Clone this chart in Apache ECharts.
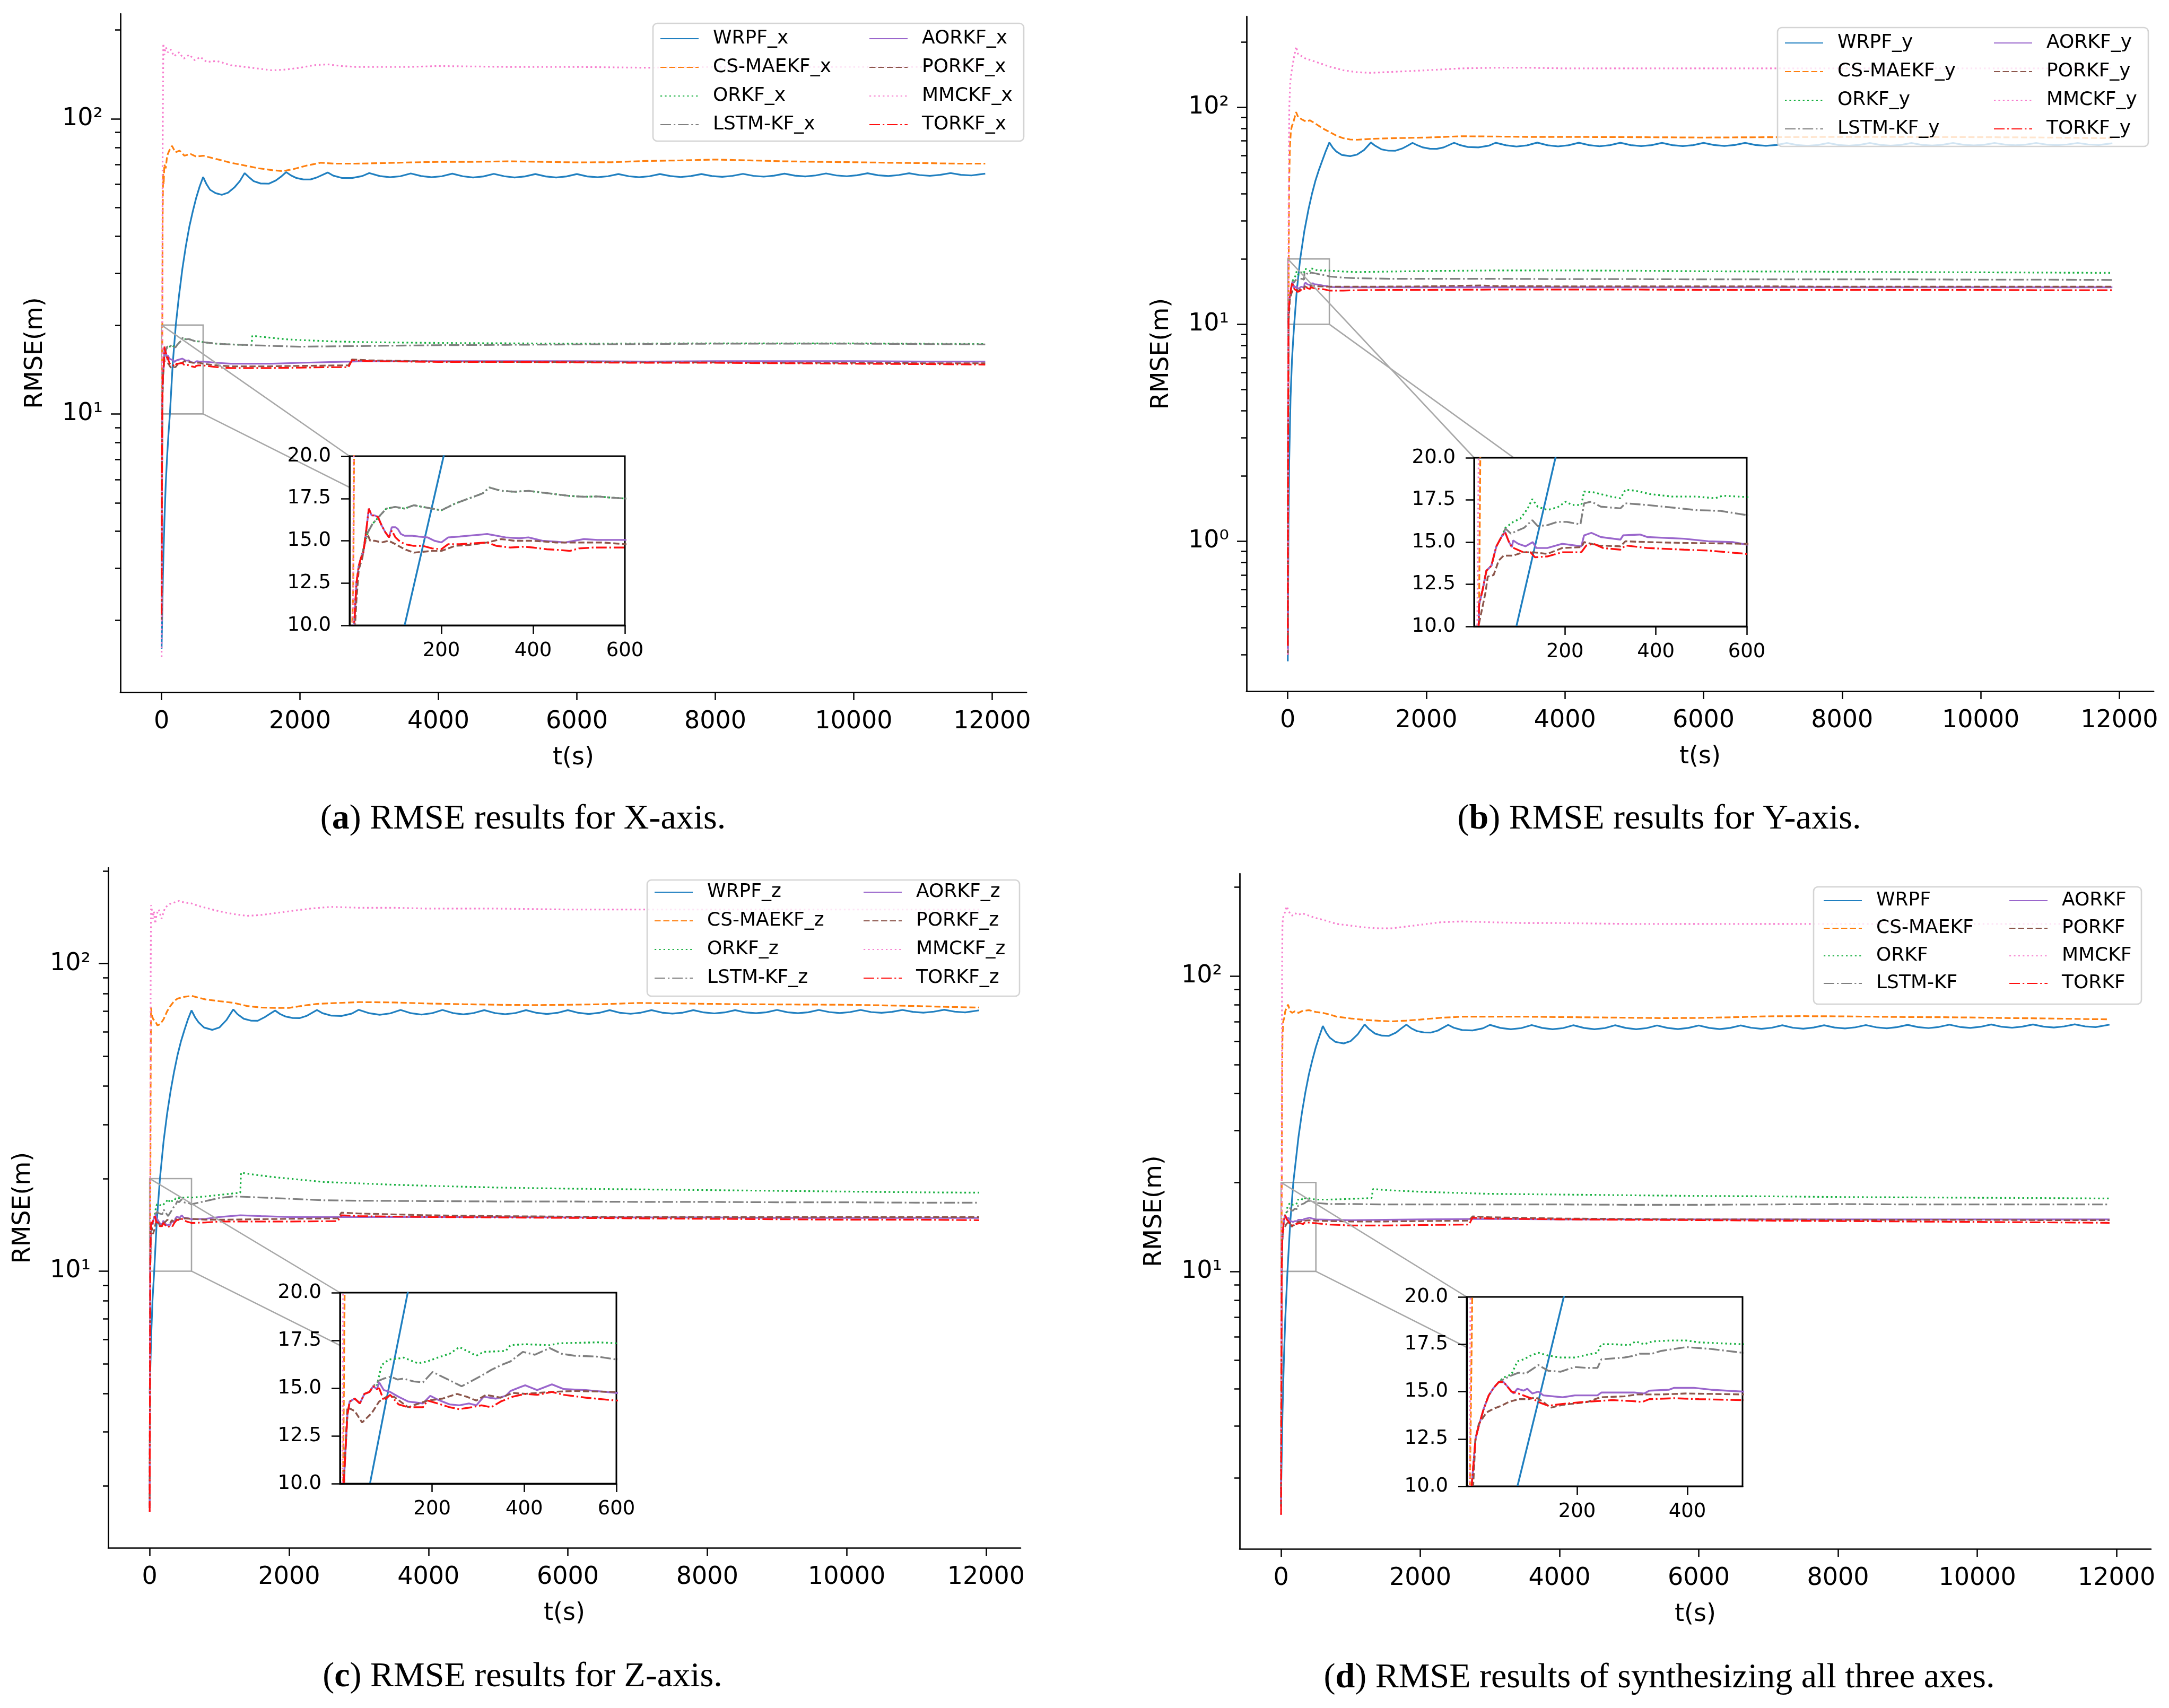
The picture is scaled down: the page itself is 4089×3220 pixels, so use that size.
<!DOCTYPE html>
<html><head><meta charset="utf-8">
<script src="https://cdn.jsdelivr.net/npm/echarts@6/dist/echarts.min.js"></script>
<style>html,body{margin:0;padding:0;background:#fff}#c{width:4089px;height:3220px}</style>
</head><body><div id="c"></div>
<script>
// ---------------- DATA ----------------
const METHODS = ['WRPF','CS-MAEKF','ORKF','LSTM-KF','AORKF','PORKF','MMCKF','TORKF'];
const SUFFIXES = ['_x','_y','_z',''];
const CAPTION_LETTERS = ['a','b','c','d'];
const CAPTION_TEXTS = [') RMSE results for X-axis.', ') RMSE results for Y-axis.', ') RMSE results for Z-axis.', ') RMSE results of synthesizing all three axes.'];
const X_TICKS = [0,2000,4000,6000,8000,10000,12000];
const INSET_X_TICKS_600 = [200,400,600];
const INSET_X_TICKS_500 = [200,400];
const LOG_MAJOR = [0.1,1,10,100,1000];
const LOG_MINOR = [0.2,0.3,0.4,0.5,0.6,0.7,0.8,0.9,2,3,4,5,6,7,8,9,20,30,40,50,60,70,80,90,200,300,400,500];

// Panel (a) X-axis
const A_WRPF = [[0,1.6],[20,2.9],[40,4.3],[60,5.8],[80,7.2],[100,8.6],[120,10.0],[160,14.7],[205,20.0],[250,25],[300,31],[350,37],[400,43],[450,48.5],[500,54],[550,59],[600,63.5],
[650,60],[700,57.5],[780,56],[870,55.3],[960,56.2],[1050,58.5],[1130,61.5],[1200,65.5],[1260,63.5],[1330,61.5],[1430,60.4],[1550,60.3],[1650,61.8],[1730,63.8],[1800,66],
[1870,64.3],[1950,63],[2050,62.3],[2150,62.3],[2250,63.4],[2400,65.8],[2480,64.2],[2600,63.1],[2750,63],[2900,64],[3000,65.5],
[3150,64.0],[3300,63.4],[3450,63.9],[3600,65.3],[3750,64.0],[3900,63.4],[4050,63.9],[4200,65.2],[4350,63.9],[4500,63.3],[4650,63.8],[4800,65.1],[4950,63.9],[5100,63.3],[5250,63.8],[5400,65.0],[5550,63.8],[5700,63.3],[5850,63.8],[6000,65.0],[6150,63.8],[6300,63.4],[6450,63.9],[6600,65.0],[6750,63.9],[6900,63.4],[7050,63.9],[7200,65.0],[7350,64.0],[7500,63.5],[7650,64.0],[7800,65.0],[7950,64.0],[8100,63.6],[8250,64.1],[8400,65.1],[8550,64.1],[8700,63.7],[8850,64.2],[9000,65.2],[9150,64.2],[9300,63.8],[9450,64.3],[9600,65.3],[9750,64.3],[9900,63.9],[10050,64.4],[10200,65.4],[10350,64.4],[10500,64.0],[10650,64.5],[10800,65.4],[10950,64.5],[11100,64.1],[11250,64.6],[11400,65.5],[11550,64.6],[11700,64.3],[11900,65.2]];
const A_CSMAEKF = [[0,5],[8,12],[15,45],[22,65],[30,60],[40,70],[60,68],[80,75],[110,78],[150,81],[200,77],[260,78],[330,75],[420,76],[500,74.5],[600,75],[800,73],[1000,71],[1200,69.5],[1400,68],[1600,67],[1750,66.5],[1900,67.5],[2100,69.5],[2300,71],[2500,70.5],[2800,70.5],[3200,70.8],[3600,71.2],[4000,71.5],[4500,71.5],[5000,71.8],[5500,71.5],[6000,71.2],[6500,71.3],[7000,72],[7500,72.3],[8000,72.8],[8500,72.3],[9000,71.8],[9500,71.5],[10000,71.3],[10500,71],[11000,70.8],[11500,70.5],[11900,70.5]];
const A_ORKF = [[0,2.0],[5,6],[10,10],[15,12.5],[20,13.5],[30,14.5],[40,15.5],[50,16.0],[60,16.3],[70,16.6],[80,16.9],[100,17.0],[120,16.9],[140,17.1],[160,17.0],[180,16.9],[200,16.8],[215,17.0],[230,17.2],[250,17.4],[270,17.6],[290,17.8],[305,18.15],[330,17.95],[360,17.9],[390,17.95],[420,17.85],[450,17.75],[480,17.65],[510,17.6],[540,17.62],[570,17.55],[600,17.5],[800,17.3],[1000,17.2],[1300,17.1],[1310,18.4],[1500,18.2],[1800,17.9],[2000,17.8],[2500,17.6],[3000,17.5],[4000,17.4],[5000,17.35],[6000,17.3],[8000,17.35],[10000,17.35],[11900,17.25]];
const A_LSTM = [[0,2.0],[5,6],[10,10],[15,12.5],[20,13.5],[30,14.5],[40,15.5],[50,16.0],[60,16.3],[70,16.6],[80,16.9],[100,17.0],[120,16.9],[140,17.1],[160,17.0],[180,16.9],[200,16.8],[215,17.0],[230,17.2],[250,17.4],[270,17.6],[290,17.8],[305,18.15],[330,17.95],[360,17.9],[390,17.95],[420,17.85],[450,17.75],[480,17.65],[510,17.6],[540,17.62],[570,17.55],[600,17.5],[800,17.3],[1000,17.2],[1300,17.1],[1600,17.0],[2000,16.9],[2500,16.95],[3000,17.0],[4000,17.1],[5000,17.15],[6000,17.2],[7000,17.25],[8000,17.3],[9000,17.3],[10000,17.3],[11000,17.25],[11900,17.2]];
const A_AORKF = [[0,2.0],[5,6],[10,10],[15,12.5],[20,13.5],[25,14.0],[30,14.3],[35,15.3],[42,16.9],[48,16.5],[55,16.5],[62,16.4],[70,15.9],[78,15.5],[86,15.2],[92,15.8],[100,15.8],[105,15.7],[112,15.4],[120,15.3],[135,15.3],[150,15.25],[170,15.2],[185,15.0],[200,14.9],[215,15.2],[240,15.25],[260,15.3],[280,15.35],[300,15.4],[320,15.3],[340,15.2],[370,15.15],[390,15.2],[420,15.0],[450,14.95],[470,14.9],[490,15.0],[510,15.1],[540,15.05],[570,15.05],[600,15.05],[800,14.9],[1000,14.8],[1300,14.8],[1600,14.8],[2000,14.9],[2500,15.0],[3000,15.1],[4000,15.1],[5000,15.1],[6000,15.1],[7000,15.05],[8000,15.1],[9000,15.1],[10000,15.1],[11000,15.05],[11900,15.05]];
const A_PORKF = [[0,2.0],[5,5],[10,9],[15,11.5],[20,13.3],[28,14.0],[36,15.6],[45,15.0],[55,15.0],[70,14.9],[85,15.0],[100,14.8],[120,14.5],[140,14.3],[160,14.35],[180,14.4],[200,14.4],[230,14.7],[260,14.75],[300,14.9],[330,15.1],[360,15.0],[400,15.0],[450,14.9],[500,14.9],[550,14.9],[600,14.8],[800,14.6],[1000,14.5],[1500,14.5],[2000,14.55],[2500,14.6],[2700,14.6],[2750,15.3],[3000,15.2],[4000,15.05],[5000,15.0],[6000,15.0],[7000,14.95],[8000,14.95],[9000,14.9],[10000,14.9],[11000,14.85],[11900,14.85]];
const A_MMCKF = [[0,1.5],[8,10],[15,80],[25,180],[40,165],[60,175],[90,168],[130,172],[180,163],[250,168],[320,160],[400,165],[480,158],[560,162],[650,156],[800,157],[1000,152],[1200,150],[1400,148],[1600,146],[1800,147],[2000,149],[2200,152],[2400,153],[2600,151],[2800,150],[3200,150],[3600,150],[4000,151],[5000,150],[6000,150],[7000,149],[8000,150],[9000,150],[10000,150],[11000,150],[11900,150]];
const A_TORKF = [[0,2.1],[5,6],[10,10],[15,12.5],[20,13.5],[25,14.0],[30,14.3],[35,15.3],[42,16.9],[48,16.5],[55,16.5],[62,16.4],[70,15.9],[78,15.5],[86,15.2],[92,15.6],[100,15.2],[108,15.0],[120,14.8],[140,14.7],[160,14.7],[180,14.55],[200,14.5],[215,14.8],[240,14.8],[270,14.85],[300,14.9],[320,14.7],[350,14.6],[380,14.65],[400,14.6],[430,14.5],[460,14.45],[480,14.4],[500,14.55],[530,14.6],[560,14.6],[600,14.6],[800,14.4],[1000,14.3],[1500,14.3],[2000,14.35],[2500,14.4],[2700,14.4],[2750,15.2],[3000,15.1],[4000,15.0],[5000,15.0],[6000,14.95],[7000,14.9],[8000,14.9],[9000,14.85],[10000,14.8],[11000,14.75],[11900,14.7]];

// Panel (b) Y-axis
const B_WRPF = [[0,0.28],[10,1.2],[20,2.3],[40,4.6],[60,6.8],[80,8.7],[93,10],[130,14.3],[179,20],[240,27],[300,34],[350,40],[400,46],[450,51.5],[500,57],[550,63],[600,68.8],
[650,65],[700,62.5],[780,60.3],[900,59.5],[1000,60.5],[1100,63.5],[1200,68.8],[1260,66.5],[1350,64],[1450,63.1],[1550,63],[1650,64.5],[1730,66.5],[1800,68.5],[1870,66.8],[1950,65.3],[2050,64.4],[2150,64.3],[2250,65.3],[2400,68.6],[2480,67],[2600,65.6],[2750,65.3],[2900,66.5],[3000,68.6],
[3150,66.8],[3300,65.9],[3450,66.7],[3600,68.7],[3750,66.8],[3900,66.0],[4050,66.8],[4200,68.6],[4350,66.9],[4500,66.1],[4650,66.9],[4800,68.6],[4950,66.9],[5100,66.2],[5250,66.9],[5400,68.5],[5550,66.9],[5700,66.2],[5850,66.9],[6000,68.5],[6150,67.0],[6300,66.3],[6450,67.0],[6600,68.5],[6750,67.0],[6900,66.4],[7050,67.0],[7200,68.4],[7350,67.0],[7500,66.4],[7650,67.0],[7800,68.4],[7950,67.0],[8100,66.5],[8250,67.1],[8400,68.4],[8550,67.1],[8700,66.5],[8850,67.1],[9000,68.4],[9150,67.1],[9300,66.6],[9450,67.2],[9600,68.4],[9750,67.2],[9900,66.7],[10050,67.2],[10200,68.4],[10350,67.3],[10500,66.8],[10650,67.3],[10800,68.4],[10950,67.3],[11100,66.9],[11250,67.4],[11400,68.4],[11550,67.4],[11700,67.0],[11900,68.2]];
const B_CSMAEKF = [[0,0.3],[5,2],[10,8],[15,25],[20,45],[30,65],[45,78],[60,82],[80,85],[100,90],[120,95],[150,90],[200,88],[260,86],[320,87],[400,84],[500,80],[600,77],[700,74],[800,72],[900,71],[1000,70.8],[1200,71.5],[1500,72],[2000,72.5],[2500,73.5],[3000,73.3],[3500,73],[4000,73],[5000,72.8],[6000,72.5],[7000,72.8],[8000,73],[9000,73],[10000,72.8],[11000,72.5],[11900,72]];
const B_ORKF = [[0,0.3],[5,4],[11,11.3],[19,12.2],[27,13.3],[38,13.6],[49,14.75],[60,15.3],[69,15.85],[86,16.2],[102,16.4],[118,17.0],[128,17.55],[140,17.1],[161,16.9],[183,17.05],[202,17.4],[215,17.2],[236,17.2],[242,18.0],[263,17.95],[301,17.7],[322,17.6],[333,18.1],[354,18.05],[387,17.85],[435,17.7],[488,17.7],[531,17.6],[547,17.75],[600,17.67],[800,17.5],[1000,17.4],[1500,17.5],[2000,17.6],[3000,17.7],[4000,17.7],[5000,17.65],[6000,17.55],[7000,17.5],[8000,17.45],[9000,17.4],[10000,17.35],[11000,17.3],[11900,17.25]];
const B_LSTM = [[0,0.3],[5,4],[11,11.3],[19,12.2],[27,13.3],[38,13.6],[49,14.75],[60,15.3],[69,15.8],[81,15.5],[97,15.7],[110,15.85],[128,16.3],[140,15.95],[161,16.0],[183,16.2],[204,16.2],[234,16.05],[242,17.3],[258,17.4],[279,17.1],[322,17.0],[333,17.3],[381,17.2],[435,17.05],[488,16.9],[542,16.85],[600,16.6],[800,16.4],[1000,16.3],[1500,16.2],[2000,16.2],[3000,16.2],[4000,16.15],[5000,16.15],[6000,16.1],[7000,16.1],[8000,16.1],[9000,16.1],[10000,16.05],[11000,16.05],[11900,16.0]];
const B_AORKF = [[0,0.3],[5,4],[11,11.3],[19,12.2],[27,13.3],[38,13.6],[49,14.75],[60,15.3],[68,15.6],[76,15.05],[83,14.7],[86,15.1],[97,14.9],[113,14.75],[129,15.0],[137,14.65],[161,14.65],[194,14.9],[236,14.75],[242,15.4],[258,15.55],[279,15.3],[322,15.15],[328,15.4],[365,15.45],[381,15.3],[462,15.2],[515,15.05],[569,15.0],[600,14.85],[800,14.8],[1000,14.8],[1500,14.8],[2000,14.8],[3000,14.8],[4000,14.8],[5000,14.8],[6000,14.8],[7000,14.8],[8000,14.8],[9000,14.8],[10000,14.8],[11000,14.8],[11900,14.8]];
const B_PORKF = [[0,0.3],[5,3],[11,10.2],[25,12.0],[30,12.95],[43,13.05],[54,13.9],[65,14.2],[86,14.2],[108,14.4],[129,14.4],[161,14.3],[194,14.65],[236,14.7],[242,15.0],[274,14.8],[322,14.75],[333,15.05],[381,15.0],[462,14.95],[600,14.9],[800,14.9],[1000,14.9],[2000,14.95],[2800,15.1],[3000,15.0],[4000,14.95],[5000,14.95],[6000,14.95],[7000,14.95],[8000,14.9],[9000,14.9],[10000,14.9],[11000,14.9],[11900,14.9]];
const B_MMCKF = [[0,0.3],[5,3],[10,20],[15,60],[22,100],[35,130],[60,150],[90,170],[120,190],[150,175],[200,172],[250,168],[300,166],[400,162],[500,158],[600,154],[800,148],[1000,145],[1200,144],[1400,145],[1600,146],[2000,148],[2500,151],[3000,152],[3500,152],[4000,151],[5000,151],[6000,151],[7000,151],[8000,151],[9000,151],[10000,151],[11000,151],[11900,151]];
const B_TORKF = [[0,0.33],[5,4],[11,11.3],[19,12.2],[27,13.3],[38,13.6],[49,14.75],[60,15.3],[68,15.6],[76,15.05],[83,14.7],[108,14.4],[124,14.4],[134,14.1],[161,14.15],[194,14.4],[236,14.4],[247,14.8],[263,14.9],[284,14.65],[322,14.55],[333,14.8],[381,14.65],[462,14.55],[515,14.5],[600,14.3],[800,14.3],[1000,14.35],[1500,14.4],[2000,14.4],[3000,14.45],[4000,14.45],[5000,14.45],[6000,14.4],[7000,14.4],[8000,14.4],[9000,14.4],[10000,14.4],[11000,14.35],[11900,14.35]];

// Panel (c) Z-axis
const C_WRPF = [[0,4],[20,6],[40,8],[65,10],[100,14.3],[147,20],[200,26.5],[250,32.5],[300,38.5],[350,44.5],[400,50.5],[450,56],[500,61],[550,66],[600,70.5],
[650,67],[700,64.5],[780,62],[900,60.9],[1000,62],[1100,65.5],[1200,71],[1260,68.5],[1350,66.2],[1450,65.3],[1550,65.2],[1650,67],[1730,68.8],[1800,70.4],[1870,68.6],[1950,67.3],[2050,66.6],[2150,66.5],[2250,67.6],[2400,70.7],[2480,69],[2600,67.8],[2750,67.6],[2900,68.8],[3000,70.8],
[3150,69.0],[3300,68.2],[3450,68.9],[3600,70.7],[3750,69.0],[3900,68.3],[4050,69.0],[4200,70.7],[4350,69.1],[4500,68.4],[4650,69.1],[4800,70.6],[4950,69.1],[5100,68.5],[5250,69.1],[5400,70.6],[5550,69.2],[5700,68.6],[5850,69.2],[6000,70.6],[6150,69.2],[6300,68.6],[6450,69.2],[6600,70.6],[6750,69.2],[6900,68.7],[7050,69.3],[7200,70.6],[7350,69.3],[7500,68.8],[7650,69.3],[7800,70.6],[7950,69.4],[8100,68.9],[8250,69.4],[8400,70.6],[8550,69.4],[8700,69.0],[8850,69.5],[9000,70.7],[9150,69.5],[9300,69.0],[9450,69.5],[9600,70.7],[9750,69.6],[9900,69.1],[10050,69.6],[10200,70.7],[10350,69.6],[10500,69.2],[10650,69.7],[10800,70.7],[10950,69.7],[11100,69.3],[11250,69.8],[11400,70.8],[11550,69.8],[11700,69.4],[11900,70.5]];
const C_CSMAEKF = [[0,1.7],[5,5],[10,20],[15,50],[20,72],[30,68],[50,66],[80,65],[110,63],[150,63.5],[200,66],[250,70],[300,73],[350,75.5],[400,77],[500,78],[600,78.6],[700,77.5],[800,76.5],[1000,75.5],[1200,74.6],[1400,72.8],[1600,72],[1800,71.8],[2000,71.8],[2200,73],[2400,74],[2700,74.5],[3000,75],[3500,74.8],[4000,74.2],[4500,73.8],[5000,73.5],[5500,73.3],[6000,73.5],[6500,73.8],[7000,74.5],[7500,74.3],[8000,74],[8500,73.8],[9000,73.7],[9500,73.6],[10000,73.5],[10500,73.2],[11000,72.8],[11500,72.3],[11900,72]];
const C_ORKF = [[0,1.7],[5,5],[8,10],[16,13.6],[21,14.3],[32,14.45],[43,14.2],[53,14.7],[64,14.8],[72,15.1],[80,15.1],[90,16.2],[106,16.5],[127,16.55],[138,16.6],[169,16.3],[190,16.4],[212,16.6],[238,16.8],[259,17.15],[280,16.9],[296,16.7],[312,16.9],[360,16.95],[370,17.25],[402,17.3],[455,17.25],[476,17.35],[560,17.4],[600,17.35],[800,17.5],[1000,17.7],[1200,17.9],[1300,18.0],[1310,20.9],[1500,20.6],[1800,20.2],[2000,20.0],[2500,19.5],[3000,19.3],[3500,19.1],[4000,18.95],[5000,18.7],[6000,18.55],[7000,18.45],[8000,18.35],[9000,18.25],[10000,18.15],[11000,18.05],[11900,18.0]];
const C_LSTM = [[0,1.7],[5,5],[8,10],[16,13.6],[21,14.3],[32,14.45],[43,14.2],[53,14.7],[64,14.8],[72,15.1],[85,15.4],[95,15.5],[110,15.6],[125,15.45],[138,15.5],[160,15.35],[180,15.3],[201,15.85],[222,15.6],[243,15.35],[264,15.1],[280,15.3],[307,15.65],[328,15.95],[349,16.2],[370,16.4],[397,16.9],[423,16.75],[455,17.1],[481,16.8],[508,16.7],[560,16.65],[600,16.5],[800,16.9],[1000,17.3],[1200,17.5],[1500,17.4],[2000,17.2],[2500,17.0],[3000,16.95],[4000,16.9],[5000,16.85],[6000,16.85],[7000,16.8],[8000,16.8],[9000,16.75],[10000,16.75],[11000,16.7],[11900,16.7]];
const C_AORKF = [[0,1.7],[5,5],[8,10],[16,13.6],[21,14.3],[32,14.45],[43,14.2],[53,14.7],[64,14.8],[72,15.1],[80,14.95],[85,15.3],[95,14.9],[109,14.8],[127,14.55],[148,14.3],[180,14.2],[196,14.6],[212,14.4],[238,14.15],[259,14.1],[280,14.2],[296,14.1],[312,14.55],[338,14.45],[360,14.6],[370,14.85],[391,15.05],[402,15.15],[428,14.9],[460,15.2],[486,14.95],[534,14.9],[600,14.75],[800,14.8],[1000,15.0],[1300,15.2],[1600,15.1],[2000,15.0],[3000,15.0],[4000,15.0],[5000,15.0],[6000,14.95],[7000,14.95],[8000,14.95],[9000,14.9],[10000,14.9],[11000,14.9],[11900,14.9]];
const C_PORKF = [[0,1.7],[5,5],[10,11],[16,14.0],[32,13.8],[48,13.2],[69,13.7],[85,14.3],[101,14.55],[117,14.55],[148,14.0],[190,14.35],[222,14.45],[254,14.7],[275,14.55],[296,14.35],[317,14.65],[349,14.5],[375,14.75],[402,14.7],[455,14.8],[508,14.85],[600,14.8],[800,14.7],[1000,14.7],[1500,14.75],[2000,14.8],[2700,14.85],[2750,15.5],[3000,15.4],[4000,15.2],[5000,15.1],[6000,15.05],[7000,15.0],[8000,15.0],[9000,15.0],[10000,15.0],[11000,15.0],[11900,15.0]];
const C_MMCKF = [[0,1.65],[5,8],[10,40],[15,100],[20,155],[30,150],[45,140],[60,148],[80,135],[100,145],[130,150],[170,140],[220,152],[280,156],[350,158],[420,160],[500,158],[600,157],[700,154],[850,151],[1000,148],[1200,145],[1400,143],[1600,144],[1800,146],[2000,148],[2300,151],[2600,153],[3000,152],[3500,152],[4000,151],[5000,151],[6000,150],[7000,150],[8000,150],[9000,150],[10000,150],[11000,150],[11900,150]];
const C_TORKF = [[0,1.65],[5,5],[8,10],[16,13.6],[21,14.3],[32,14.45],[43,14.2],[53,14.7],[64,14.8],[72,15.1],[80,14.95],[85,15.0],[95,14.35],[109,14.65],[127,14.15],[148,14.0],[180,14.0],[190,14.35],[212,14.2],[238,14.0],[259,13.9],[286,14.0],[307,14.1],[328,14.0],[349,14.3],[375,14.55],[402,14.7],[428,14.65],[460,14.8],[486,14.65],[534,14.5],[600,14.35],[800,14.4],[1000,14.5],[1500,14.5],[2000,14.5],[2700,14.55],[2750,15.2],[3000,15.1],[4000,15.0],[5000,14.95],[6000,14.9],[7000,14.85],[8000,14.8],[9000,14.75],[10000,14.7],[11000,14.7],[11900,14.65]];

// Panel (d) all three axes
const D_WRPF = [[0,1.8],[20,3.3],[40,5.0],[60,6.9],[80,8.7],[92,10],[130,14.5],[176,20],[250,28.5],[300,34.5],[350,40.5],[400,46.5],[450,52],[500,57.5],[550,62.5],[600,67.7],
[650,64.2],[700,61.8],[780,59.8],[900,59.1],[1000,60.2],[1100,63.4],[1200,68.5],[1260,66.2],[1350,63.8],[1450,62.8],[1550,62.7],[1650,64.3],[1730,66.5],[1800,68.4],[1870,66.5],[1950,65.1],[2050,64.4],[2150,64.3],[2250,65.3],[2400,68.3],[2480,66.8],[2600,65.6],[2750,65.4],[2900,66.5],[3000,68.3],
[3150,66.7],[3300,66.0],[3450,66.6],[3600,68.2],[3750,66.7],[3900,66.0],[4050,66.6],[4200,68.1],[4350,66.7],[4500,66.0],[4650,66.6],[4800,68.1],[4950,66.7],[5100,66.0],[5250,66.6],[5400,68.0],[5550,66.7],[5700,66.1],[5850,66.7],[6000,68.0],[6150,66.7],[6300,66.1],[6450,66.7],[6600,68.0],[6750,66.8],[6900,66.2],[7050,66.8],[7200,68.1],[7350,66.8],[7500,66.3],[7650,66.9],[7800,68.1],[7950,66.9],[8100,66.4],[8250,67.0],[8400,68.2],[8550,67.0],[8700,66.5],[8850,67.1],[9000,68.3],[9150,67.1],[9300,66.6],[9450,67.2],[9600,68.4],[9750,67.2],[9900,66.7],[10050,67.3],[10200,68.5],[10350,67.3],[10500,66.8],[10650,67.4],[10800,68.5],[10950,67.4],[11100,66.9],[11250,67.5],[11400,68.6],[11550,67.5],[11700,67.1],[11900,68.4]];
const D_CSMAEKF = [[0,3],[5,8],[10,20],[15,45],[20,62],[30,70],[45,72],[60,76],[80,78],[100,80],[130,76],[160,75],[200,76],[250,75],[300,76],[400,76.6],[500,75.5],[600,75],[700,74],[800,72.8],[1000,71.8],[1200,71],[1400,70.5],[1600,70.2],[1800,70.6],[2000,71.2],[2300,72.2],[2600,72.8],[3000,72.8],[3500,72.8],[4000,72.6],[4500,72.4],[5000,72.2],[5500,72],[6000,72.1],[6500,72.5],[7000,73],[7500,73.1],[8000,73],[8500,72.8],[9000,72.6],[9500,72.5],[10000,72.3],[10500,72],[11000,71.8],[11500,71.5],[11900,71.3]];
const D_ORKF = [[0,1.6],[5,5],[9,10],[16,12.5],[22,13.2],[31,14.1],[40,14.8],[49,15.2],[58,15.5],[67,15.75],[81,15.9],[92,16.6],[103,16.7],[116,16.9],[130,17.05],[148,16.9],[170,16.8],[196,16.8],[219,16.95],[237,17.05],[244,17.5],[268,17.5],[295,17.45],[306,17.65],[322,17.5],[336,17.65],[371,17.7],[398,17.7],[421,17.6],[500,17.5],[700,17.5],[1000,17.6],[1300,17.7],[1320,19.0],[1500,18.85],[2000,18.6],[2500,18.45],[3000,18.3],[4000,18.2],[5000,18.1],[6000,18.0],[7000,17.95],[8000,17.85],[9000,17.8],[10000,17.75],[11000,17.7],[11900,17.65]];
const D_LSTM = [[0,1.6],[5,5],[9,10],[16,12.5],[22,13.2],[31,14.1],[40,14.8],[49,15.2],[58,15.5],[67,15.65],[81,15.85],[94,16.0],[107,15.95],[130,16.4],[148,16.1],[170,16.05],[196,16.3],[219,16.25],[237,16.25],[244,16.7],[286,16.8],[304,16.9],[313,17.0],[336,17.0],[353,17.15],[398,17.35],[443,17.25],[500,17.05],[700,16.9],[1000,16.9],[1500,16.85],[2000,16.85],[3000,16.85],[4000,16.85],[5000,16.8],[6000,16.8],[7000,16.85],[8000,16.9],[9000,16.85],[10000,16.85],[11000,16.85],[11900,16.85]];
const D_AORKF = [[0,1.6],[5,5],[9,10],[16,12.5],[22,13.2],[31,14.1],[40,14.8],[49,15.2],[58,15.5],[67,15.5],[76,15.2],[85,14.9],[92,15.15],[103,15.05],[110,15.15],[119,14.9],[130,15.0],[139,14.8],[174,14.7],[196,14.8],[237,14.8],[244,14.95],[304,14.95],[322,14.9],[331,15.05],[367,15.1],[376,15.2],[412,15.2],[443,15.1],[500,15.0],[700,14.95],[1000,14.9],[1500,14.95],[2000,15.0],[3000,15.05],[4000,15.0],[5000,15.0],[6000,15.0],[7000,15.0],[8000,15.0],[9000,15.0],[10000,15.0],[11000,15.0],[11900,15.0]];
const D_PORKF = [[0,1.6],[5,4],[10,9],[16,12.5],[22,13.3],[36,13.9],[49,14.1],[63,14.25],[76,14.45],[94,14.6],[112,14.6],[125,14.7],[139,14.45],[152,14.15],[174,14.3],[219,14.45],[242,14.7],[286,14.75],[309,14.85],[353,14.85],[398,14.9],[500,14.85],[700,14.8],[1000,14.75],[1500,14.75],[2000,14.8],[2700,14.85],[2750,15.35],[3000,15.25],[4000,15.1],[5000,15.05],[6000,15.0],[7000,15.0],[8000,14.95],[9000,14.95],[10000,14.95],[11000,14.9],[11900,14.9]];
const D_MMCKF = [[0,1.5],[5,8],[10,40],[15,110],[20,150],[30,158],[40,161],[60,165],[80,172],[100,168],[130,162],[160,160],[200,163],[250,161],[300,163],[400,160],[500,157],[600,155],[800,150],[1000,148],[1200,146],[1400,145],[1600,145],[1800,147],[2000,149],[2300,152],[2600,153],[3000,152],[3500,151],[4000,151],[5000,150],[6000,150],[7000,150],[8000,150],[9000,150],[10000,150],[11000,150],[11900,150]];
const D_TORKF = [[0,1.5],[5,5],[9,10],[16,12.5],[22,13.2],[31,14.1],[40,14.8],[49,15.2],[58,15.5],[67,15.5],[81,15.0],[94,14.9],[107,14.75],[121,14.6],[134,14.4],[148,14.25],[174,14.35],[210,14.45],[237,14.5],[264,14.55],[300,14.5],[318,14.45],[331,14.6],[376,14.65],[421,14.6],[500,14.55],[700,14.4],[1000,14.3],[1500,14.3],[2000,14.35],[2700,14.4],[2750,15.2],[3000,15.1],[4000,15.0],[5000,14.95],[6000,14.9],[7000,14.85],[8000,14.8],[9000,14.75],[10000,14.7],[11000,14.65],[11900,14.6]];

const PANEL_SERIES = [
  [A_WRPF, A_CSMAEKF, A_ORKF, A_LSTM, A_AORKF, A_PORKF, A_MMCKF, A_TORKF],
  [B_WRPF, B_CSMAEKF, B_ORKF, B_LSTM, B_AORKF, B_PORKF, B_MMCKF, B_TORKF],
  [C_WRPF, C_CSMAEKF, C_ORKF, C_LSTM, C_AORKF, C_PORKF, C_MMCKF, C_TORKF],
  [D_WRPF, D_CSMAEKF, D_ORKF, D_LSTM, D_AORKF, D_PORKF, D_MMCKF, D_TORKF]
];

// ---------------- LAYOUT / STYLE ----------------
const FONT = 'DejaVu Sans';
const SERIF = 'Liberation Serif';
const LAYOUT = [
 {grid:[227,26,1935,1305], ylog:[1.14,227], inset:[659,860,1178,1179], insetX:600, legBox:[1231,44,1930,266], leg1:1244, leg2:1638, legTop:53, pitch:54, cap:[986,1545]},
 {grid:[2350,31,4060,1303], ylog:[0.204,262], inset:[2779,863,3293,1181], insetX:600, legBox:[3351,52,4050,276], leg1:3364, leg2:3758, legTop:61, pitch:54, cap:[3128,1545]},
 {grid:[204,1636,1924,2918], ylog:[1.26,205], inset:[641,2437,1162,2797], insetX:600, legBox:[1220,1659,1922,1878], leg1:1233, leg2:1627, legTop:1662, pitch:54, cap:[985,3162]},
 {grid:[2337,1647,4055,2920], ylog:[1.15,222], inset:[2765,2445,3285,2802], insetX:500, legBox:[3419,1672,4037,1893], leg1:3437, leg2:3787, legTop:1678, pitch:52, cap:[3128,3164]}
];
const LW = 3.2;
const STY = {
 'WRPF':     {color:'#1f7fc0', type:'solid'},
 'CS-MAEKF': {color:'#ff7f0e', type:[11.5,5]},
 'ORKF':     {color:'#18b040', type:[3.2,5.2]},
 'LSTM-KF':  {color:'#808080', type:[20,5,3.2,5]},
 'AORKF':    {color:'#9a66cc', type:'solid'},
 'PORKF':    {color:'#8c564b', type:[11.5,5]},
 'MMCKF':    {color:'#f77fcf', type:[3.2,5.2]},
 'TORKF':    {color:'#ff1010', type:[20,5,3.2,5]}
};
const SUP = {'-1':'\u207B\u00B9','0':'\u2070','1':'\u00B9','2':'\u00B2','3':'\u00B3'};
const BLACK = '#000';

const grids=[], xAxes=[], yAxes=[], series=[], legends=[];
LAYOUT.forEach((L,p)=>{
  const [gl,gt,gr,gb] = L.grid;
  const [il,it,ir,ib] = L.inset;
  grids.push({left:gl, top:gt, width:gr-gl, height:gb-gt, show:false, containLabel:false, outerBoundsMode:'none'});
  grids.push({left:il, top:it, width:ir-il, height:ib-it, show:true, backgroundColor:'#fff', borderColor:BLACK, borderWidth:3, z:10, containLabel:false, outerBoundsMode:'none'});
  xAxes.push({type:'value', gridIndex:2*p, position:'bottom', min:-595, max:12495,
    name:'t(s)', nameLocation:'middle', nameGap:101, nameTextStyle:{fontSize:46, fontFamily:FONT, color:BLACK},
    axisLine:{show:true, onZero:false, lineStyle:{color:BLACK, width:2.7}},
    axisTick:{show:true, customValues:X_TICKS, length:15, lineStyle:{color:BLACK, width:2.5}},
    axisLabel:{show:true, customValues:X_TICKS, fontSize:46, fontFamily:FONT, color:BLACK, margin:33, formatter:(v)=>String(v)},
    splitLine:{show:false}});
  const itk = L.insetX===600 ? INSET_X_TICKS_600 : INSET_X_TICKS_500;
  xAxes.push({type:'value', gridIndex:2*p+1, position:'bottom', min:0, max:L.insetX, z:13,
    axisLine:{show:true, onZero:false, lineStyle:{color:BLACK, width:3}},
    axisTick:{show:true, customValues:itk, length:16, lineStyle:{color:BLACK, width:2.5}},
    axisLabel:{show:true, customValues:itk, fontSize:37, fontFamily:FONT, color:BLACK, margin:30, formatter:(v)=>String(v)},
    splitLine:{show:false}});
  const [lo,hi] = L.ylog;
  yAxes.push({type:'log', logBase:10, gridIndex:2*p, position:'left', min:lo, max:hi,
    name:'RMSE(m)', nameLocation:'middle', nameGap:137, nameRotate:90, nameTextStyle:{fontSize:46, fontFamily:FONT, color:BLACK},
    axisLine:{show:true, onZero:false, lineStyle:{color:BLACK, width:2.7}},
    axisTick:{show:false}, minorTick:{show:false}, splitLine:{show:false}, minorSplitLine:{show:false},
    axisLabel:{show:true, fontSize:46, fontFamily:FONT, color:BLACK, margin:33,
      formatter:(v)=>{const e=Math.log10(v); const r=Math.round(e); if(Math.abs(e-r)>1e-6) return ''; return '10'+SUP[String(r)];}}});
  const lmaj = LOG_MAJOR.filter(v=>v>=lo&&v<=hi).map(v=>Math.log10(v));
  const lmin = LOG_MINOR.filter(v=>v>=lo&&v<=hi).map(v=>Math.log10(v));
  [[lmaj,18],[lmin,10]].forEach(([vals,len])=>{
    yAxes.push({type:'value', gridIndex:2*p, position:'left', offset:0, min:Math.log10(lo), max:Math.log10(hi),
      axisLine:{show:false, onZero:false}, axisLabel:{show:false}, splitLine:{show:false},
      axisTick:{show:true, customValues:vals, length:len, lineStyle:{color:BLACK, width:2.5}}});
  });
  yAxes.push({type:'value', gridIndex:2*p+1, position:'left', min:10, max:20, interval:2.5, z:13,
    axisLine:{show:true, onZero:false, lineStyle:{color:BLACK, width:3}},
    axisTick:{show:true, length:16, lineStyle:{color:BLACK, width:2.5}},
    axisLabel:{show:true, fontSize:37, fontFamily:FONT, color:BLACK, margin:35, formatter:(v)=>v.toFixed(1)},
    splitLine:{show:false}});

  const names = METHODS.map(m=>m+SUFFIXES[p]);
  METHODS.forEach((m,k)=>{
    const st = STY[m];
    const base = {type:'line', name:names[k], data:PANEL_SERIES[p][k], symbol:'none', showSymbol:false,
      animation:false, silent:true, clip:true, itemStyle:{color:st.color}};
    const s1 = Object.assign({}, base, {xAxisIndex:2*p, yAxisIndex:4*p, z:2, lineStyle:{color:st.color, width:LW, type:st.type}});
    if (k===0) {
      s1.markArea = {silent:true, itemStyle:{color:'rgba(0,0,0,0)', borderColor:'#a6a6a6', borderWidth:2.6},
        data:[[{coord:[0,20]},{coord:[L.insetX,10]}]]};
    }
    series.push(s1);
    series.push(Object.assign({}, base, {xAxisIndex:2*p+1, yAxisIndex:4*p+3, z:11, lineStyle:{color:st.color, width:3.4, type:st.type}}));
  });
  [[names.slice(0,4), L.leg1],[names.slice(4), L.leg2]].forEach(([d,x])=>{
    legends.push({orient:'vertical', left:x, top:L.legTop, padding:0, itemWidth:72, itemHeight:16, itemGap:L.pitch-40,
      selectedMode:false, z:4, data:d,
      itemStyle:{color:'rgba(0,0,0,0)', borderWidth:0, opacity:0},
      textStyle:{fontSize:36, fontFamily:FONT, color:BLACK, lineHeight:40, padding:[0,0,0,22]}});
  });
});

const chart = echarts.init(document.getElementById('c'), null, {renderer:'canvas', width:4089, height:3220});
chart.setOption({animation:false, backgroundColor:'#fff', grid:grids, xAxis:xAxes, yAxis:yAxes, series:series, legend:legends});

const els = [];
LAYOUT.forEach((L,p)=>{
  const mTL = chart.convertToPixel({xAxisIndex:2*p, yAxisIndex:4*p}, [0,20]);
  const mBR = chart.convertToPixel({xAxisIndex:2*p, yAxisIndex:4*p}, [L.insetX,10]);
  const iTL = chart.convertToPixel({xAxisIndex:2*p+1, yAxisIndex:4*p+3}, [0,20]);
  const iBR = chart.convertToPixel({xAxisIndex:2*p+1, yAxisIndex:4*p+3}, [L.insetX,10]);
  els.push({type:'line', silent:true, z:5, shape:{x1:mTL[0],y1:mTL[1],x2:iTL[0],y2:iTL[1]}, style:{stroke:'#a8a8a8', lineWidth:2.6}});
  els.push({type:'line', silent:true, z:5, shape:{x1:mBR[0],y1:mBR[1],x2:iBR[0],y2:iBR[1]}, style:{stroke:'#a8a8a8', lineWidth:2.6}});
  const [bl,bt,br,bb] = L.legBox;
  els.push({type:'rect', silent:true, z:3, shape:{x:bl,y:bt,width:br-bl,height:bb-bt,r:8}, style:{fill:'rgba(255,255,255,0.8)', stroke:'#d4d4d4', lineWidth:2.6}});
  els.push({type:'text', silent:true, z:20, x:L.cap[0], y:L.cap[1],
    style:{text:'{n|(}{b|'+CAPTION_LETTERS[p]+'}{n|'+CAPTION_TEXTS[p]+'}', align:'center', verticalAlign:'middle',
      rich:{n:{fontFamily:SERIF, fontSize:66, fill:BLACK, color:BLACK}, b:{fontFamily:SERIF, fontSize:66, fontWeight:'bold', fill:BLACK, color:BLACK}}}});
});
chart.setOption({graphic:{elements:els}});
</script>
</body></html>
